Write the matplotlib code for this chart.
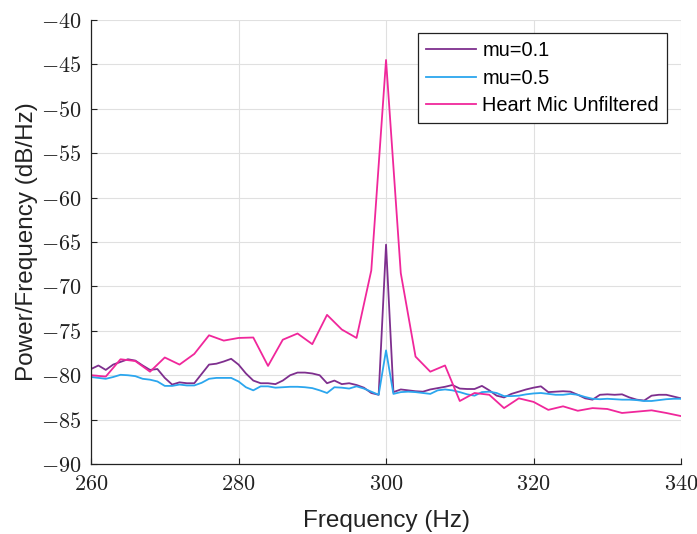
import matplotlib as mpl
mpl.use('Agg')
import matplotlib.pyplot as plt
from matplotlib.ticker import FuncFormatter
import numpy as np

# filtered outputs, 1 Hz bins
freq_f = np.arange(260, 341, 1)
mu01 = [-79.3, -78.9, -79.4, -78.8, -78.5, -78.2, -78.35, -78.9, -79.4, -79.3,
        -80.3, -81.05, -80.8, -80.9, -80.9, -79.85, -78.8, -78.7, -78.45, -78.15,
        -78.8, -79.8, -80.6, -80.9, -80.9, -81.0, -80.6, -80.0, -79.7, -79.7,
        -79.8, -80.0, -80.9, -80.6, -81.0, -80.9, -81.1, -81.4, -82.0, -82.2,
        -65.3,
        -81.9, -81.6, -81.7, -81.8, -81.85, -81.6, -81.45, -81.3, -81.1, -81.5,
        -81.55, -81.55, -81.2, -81.7, -82.3, -82.5, -82.1, -81.85, -81.6, -81.4,
        -81.25, -81.9, -81.85, -81.8, -81.85, -82.2, -82.6, -82.75, -82.2, -82.15,
        -82.2, -82.15, -82.5, -82.75, -82.85, -82.3, -82.2, -82.2, -82.4, -82.6]
mu05 = [-80.2, -80.3, -80.4, -80.2, -79.95, -80.0, -80.1, -80.4, -80.5, -80.7,
        -81.2, -81.2, -81.05, -81.15, -81.15, -80.85, -80.4, -80.3, -80.3, -80.3,
        -80.7, -81.35, -81.7, -81.25, -81.25, -81.4, -81.35, -81.3, -81.3, -81.35,
        -81.45, -81.7, -82.0, -81.35, -81.4, -81.5, -81.25, -81.5, -81.85, -82.2,
        -77.2,
        -82.1, -81.9, -81.85, -81.9, -82.0, -82.1, -81.7, -81.6, -81.7, -81.9,
        -82.15, -82.3, -81.9, -81.85, -82.0, -82.35, -82.35, -82.3, -82.15, -82.05,
        -82.0, -82.1, -82.2, -82.2, -82.1, -82.2, -82.45, -82.65, -82.7, -82.65,
        -82.7, -82.75, -82.75, -82.8, -82.9, -82.9, -82.8, -82.7, -82.65, -82.65]

# unfiltered heart mic, 2 Hz bins
freq_u = np.arange(260, 341, 2)
unfilt = [-80.0, -80.15, -78.2, -78.4, -79.6, -78.0, -78.8, -77.6, -75.5, -76.1,
          -75.8, -75.75, -78.95, -76.0, -75.3, -76.5, -73.2, -74.85, -75.8, -68.2,
          -44.5,
          -68.5, -77.9, -79.6, -78.9, -82.9, -82.0, -82.2, -83.7, -82.6, -83.0,
          -83.9, -83.5, -84.0, -83.7, -83.8, -84.25, -84.1, -83.95, -84.25, -84.6]

plt.rcParams['mathtext.fontset'] = 'cm'
plt.rcParams['font.family'] = ['Liberation Sans', 'DejaVu Sans']

fig = plt.figure(figsize=(6.97, 5.34), dpi=100)
ax = fig.add_axes([0.1306, 0.131, 0.8465, 0.8315])

ax.plot(freq_f, mu01, color='#7E2F8E', lw=1.3, label='mu=0.1')
ax.plot(freq_f, mu05, color='#2BA6EE', lw=1.3, label='mu=0.5')
ax.plot(freq_u, unfilt, color='#F0279B', lw=1.3, label='Heart Mic Unfiltered')

ax.set_xlim(260, 340)
ax.set_ylim(-90, -40)
ax.set_xticks(np.arange(260, 341, 20))
ax.set_yticks(np.arange(-90, -39, 5))
fmt = FuncFormatter(lambda v, p: r'$%d$' % v)
ax.xaxis.set_major_formatter(fmt)
ax.yaxis.set_major_formatter(fmt)
ax.tick_params(direction='in', length=4, width=0.8, labelsize=16, colors='#222222')
ax.tick_params(axis='y', pad=7)
ax.tick_params(axis='x', pad=7)
ax.grid(True, color='#e0e0e0', lw=0.8)
ax.set_axisbelow(True)
for s in ['top', 'right']:
    ax.spines[s].set_visible(False)
for s in ['left', 'bottom']:
    ax.spines[s].set_color('#222222')
    ax.spines[s].set_linewidth(0.9)

ax.set_xlabel('Frequency (Hz)', fontsize=17.5, color='#222222', labelpad=11)
ax.set_ylabel('Power/Frequency (dB/Hz)', fontsize=17.5, color='#222222', labelpad=2)

leg = ax.legend(loc='upper right', bbox_to_anchor=(0.976, 0.97), fontsize=14.4,
                fancybox=False, edgecolor='#222222', framealpha=1,
                handlelength=2.5, handletextpad=0.3, borderpad=0.4,
                borderaxespad=0, labelspacing=0.42)
leg.get_frame().set_linewidth(0.9)

plt.savefig('out.png', dpi=100)
